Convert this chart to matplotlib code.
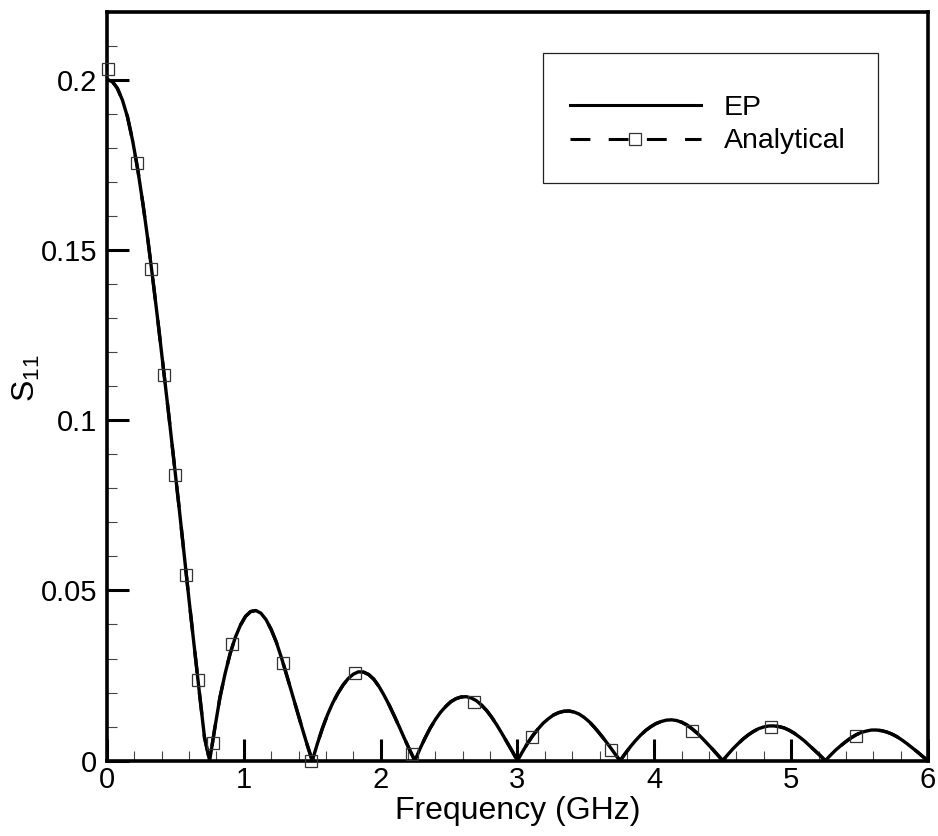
import matplotlib
matplotlib.use('Agg')
import matplotlib.pyplot as plt
from matplotlib.lines import Line2D
from matplotlib.patches import Rectangle
from matplotlib.ticker import MultipleLocator, FuncFormatter

plt.rcParams['font.family'] = ['Liberation Sans', 'DejaVu Sans']
plt.rcParams['mathtext.default'] = 'regular'

# EP solution, one row per lobe (0.0375 GHz spacing)
freq = [
    0.0000, 0.0375, 0.0750, 0.1125, 0.1500, 0.1875, 0.2250, 0.2625, 0.3000, 0.3375,
    0.3750, 0.4125, 0.4500, 0.4875, 0.5250, 0.5625, 0.6000, 0.6375, 0.6750, 0.7125,
    0.7500, 0.7875, 0.8250, 0.8625, 0.9000, 0.9375, 0.9750, 1.0125, 1.0500, 1.0875,
    1.1250, 1.1625, 1.2000, 1.2375, 1.2750, 1.3125, 1.3500, 1.3875, 1.4250, 1.4625,
    1.5000, 1.5375, 1.5750, 1.6125, 1.6500, 1.6875, 1.7250, 1.7625, 1.8000, 1.8375,
    1.8750, 1.9125, 1.9500, 1.9875, 2.0250, 2.0625, 2.1000, 2.1375, 2.1750, 2.2125,
    2.2500, 2.2875, 2.3250, 2.3625, 2.4000, 2.4375, 2.4750, 2.5125, 2.5500, 2.5875,
    2.6250, 2.6625, 2.7000, 2.7375, 2.7750, 2.8125, 2.8500, 2.8875, 2.9250, 2.9625,
    3.0000, 3.0375, 3.0750, 3.1125, 3.1500, 3.1875, 3.2250, 3.2625, 3.3000, 3.3375,
    3.3750, 3.4125, 3.4500, 3.4875, 3.5250, 3.5625, 3.6000, 3.6375, 3.6750, 3.7125,
    3.7500, 3.7875, 3.8250, 3.8625, 3.9000, 3.9375, 3.9750, 4.0125, 4.0500, 4.0875,
    4.1250, 4.1625, 4.2000, 4.2375, 4.2750, 4.3125, 4.3500, 4.3875, 4.4250, 4.4625,
    4.5000, 4.5375, 4.5750, 4.6125, 4.6500, 4.6875, 4.7250, 4.7625, 4.8000, 4.8375,
    4.8750, 4.9125, 4.9500, 4.9875, 5.0250, 5.0625, 5.1000, 5.1375, 5.1750, 5.2125,
    5.2500, 5.2875, 5.3250, 5.3625, 5.4000, 5.4375, 5.4750, 5.5125, 5.5500, 5.5875,
    5.6250, 5.6625, 5.7000, 5.7375, 5.7750, 5.8125, 5.8500, 5.8875, 5.9250, 5.9625,
    6.0000,
]
s11_ep = [
    0.2000, 0.1995, 0.1975, 0.1940, 0.1890, 0.1820, 0.1735, 0.1635, 0.1525, 0.1405,
    0.1280, 0.1150, 0.1020, 0.0885, 0.0750, 0.0610, 0.0470, 0.0335, 0.0200, 0.0068,
    0.0000, 0.0095, 0.0185, 0.0255, 0.0315, 0.0362, 0.0398, 0.0424, 0.0438, 0.0441,
    0.0433, 0.0414, 0.0385, 0.0348, 0.0302, 0.0252, 0.0200, 0.0148, 0.0097, 0.0047,
    0.0000, 0.0050, 0.0096, 0.0136, 0.0170, 0.0198, 0.0222, 0.0241, 0.0254, 0.0261,
    0.0260, 0.0253, 0.0239, 0.0218, 0.0192, 0.0163, 0.0131, 0.0098, 0.0064, 0.0031,
    0.0000, 0.0035, 0.0067, 0.0096, 0.0121, 0.0142, 0.0159, 0.0173, 0.0182, 0.0187,
    0.0188, 0.0184, 0.0176, 0.0163, 0.0147, 0.0127, 0.0104, 0.0079, 0.0053, 0.0027,
    0.0000, 0.0027, 0.0052, 0.0074, 0.0093, 0.0110, 0.0123, 0.0134, 0.0141, 0.0145,
    0.0146, 0.0143, 0.0137, 0.0127, 0.0114, 0.0098, 0.0080, 0.0061, 0.0041, 0.0020,
    0.0000, 0.0021, 0.0041, 0.0059, 0.0075, 0.0089, 0.0100, 0.0109, 0.0115, 0.0119,
    0.0120, 0.0118, 0.0113, 0.0105, 0.0094, 0.0081, 0.0066, 0.0050, 0.0034, 0.0017,
    0.0000, 0.0018, 0.0035, 0.0050, 0.0064, 0.0076, 0.0086, 0.0094, 0.0099, 0.0102,
    0.0102, 0.0100, 0.0096, 0.0089, 0.0080, 0.0069, 0.0057, 0.0043, 0.0029, 0.0015,
    0.0000, 0.0016, 0.0031, 0.0044, 0.0056, 0.0067, 0.0076, 0.0083, 0.0087, 0.0090,
    0.0090, 0.0088, 0.0084, 0.0078, 0.0070, 0.0060, 0.0049, 0.0037, 0.0025, 0.0012,
    0.0000,
]

# analytical result, symbols
freq_an = [0.007, 0.217, 0.323, 0.416, 0.498, 0.576, 0.664, 0.771, 0.917, 1.286,
           1.493, 1.816, 2.227, 2.684, 3.105, 3.686, 4.277, 4.856, 5.473]
s11_an = [0.2031, 0.1755, 0.1443, 0.1133, 0.0838, 0.0545, 0.0237, 0.0051, 0.0343, 0.0288,
          0.0000, 0.0257, 0.0019, 0.0172, 0.0069, 0.0031, 0.0088, 0.0098, 0.0071]

fig = plt.figure(figsize=(9.38, 8.36), dpi=100)
ax = fig.add_axes([0.1141, 0.0901, 0.9893 - 0.1141, 0.9862 - 0.0901])

ax.plot(freq, s11_ep, color='black', lw=2.4, zorder=3, solid_joinstyle='round')
ax.plot(freq, s11_ep, color='black', lw=2.4, dashes=(6.5, 6), zorder=2)
ax.plot(freq_an, s11_an, ls='none', marker='s', ms=8.5, mfc='none', mec='#333333',
        mew=0.9, zorder=4, clip_on=False)

ax.set_xlim(0, 6)
ax.set_ylim(0, 0.22)
ax.xaxis.set_major_locator(MultipleLocator(1))
ax.xaxis.set_minor_locator(MultipleLocator(0.2))
ax.yaxis.set_major_locator(MultipleLocator(0.05))
ax.yaxis.set_minor_locator(MultipleLocator(0.01))
ax.yaxis.set_major_formatter(FuncFormatter(lambda v, p: '%g' % round(v, 3)))

ax.tick_params(which='both', direction='in', top=False, right=False, labelsize=21)
ax.tick_params(which='major', length=16, width=2.2)
ax.tick_params(which='minor', length=7, width=0.8, color='#444444')
ax.tick_params(axis='y', pad=7)
ax.tick_params(axis='x', pad=4)
for s in ax.spines.values():
    s.set_linewidth(2.6)

ax.set_xlabel('Frequency (GHz)', fontsize=23)
ax.set_ylabel('S$_{11}$', fontsize=23)
ax.xaxis.set_label_coords(0.5, -0.047)
ax.yaxis.set_label_coords(-0.079, 0.51)

# legend box
fig.add_artist(Rectangle((543 / 938, 1 - 183 / 836), 335 / 938, 130 / 836,
                         transform=fig.transFigure, fill=False,
                         ec='#222222', lw=0.9))
handles = [
    Line2D([], [], color='black', lw=2.2),
    Line2D([], [], color='black', lw=2.2, dashes=(6.5, 6), marker='s', ms=8,
           mfc='white', mec='#333333', mew=0.9),
]
fig.legend(handles, ['EP', 'Analytical'], loc='center left',
           bbox_to_anchor=(570 / 938, 1 - 124.5 / 836), borderaxespad=0,
           fontsize=20.5, handlelength=4.6, handletextpad=0.8,
           labelspacing=0.28, borderpad=0, numpoints=1, frameon=False)

fig.savefig('out.png', dpi=100)
